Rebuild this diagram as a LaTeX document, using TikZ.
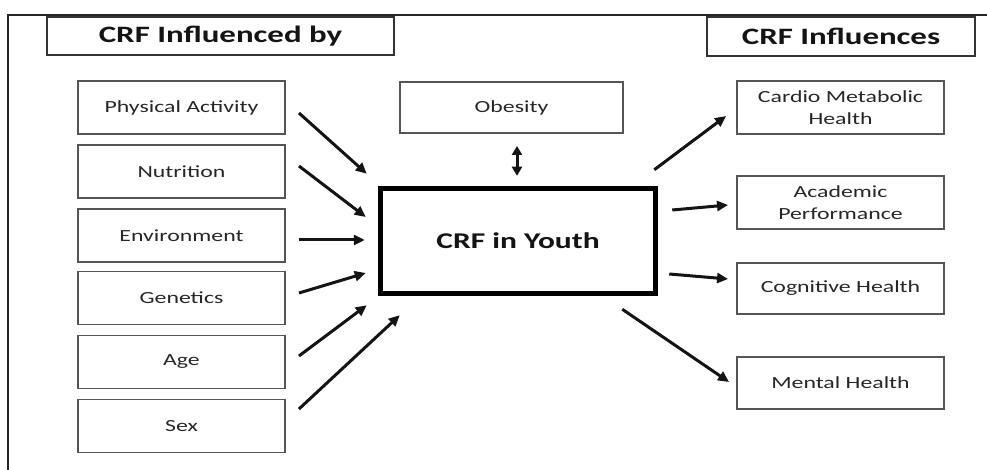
\documentclass[tikz,border=0pt]{standalone}
\usepackage{fontspec}
\setmainfont{Carlito}[FakeStretch=1.4]
\usetikzlibrary{arrows.meta}
\definecolor{boxline}{HTML}{555555}
\definecolor{boxtext}{HTML}{262626}
\tikzset{
  factor/.style={draw=boxline, line width=1.9pt, minimum width=207pt, minimum height=53pt,
    inner sep=0pt, text=boxtext, font=\fontsize{17}{22.5}\selectfont, align=center},
  header/.style={draw=black!80, line width=2.2pt, inner sep=0pt, text=black!92,
    font=\fontsize{23.5}{26}\selectfont\bfseries},
  core/.style={draw=black, line width=5.5pt, minimum width=275pt, minimum height=105pt,
    inner sep=0pt, font=\fontsize{22.5}{25}\selectfont\bfseries, text=black!92},
  arr/.style={line width=3pt, -{Triangle[length=11pt,width=10pt]}, black!92},
  dbl/.style={line width=3pt, {Triangle[length=9pt,width=10pt]}-{Triangle[length=9pt,width=10pt]}, black!92}
}
\begin{document}
\begin{tikzpicture}[x=1pt,y=-1pt]
  \useasboundingbox (0,0) rectangle (987,470);
  % open frame: top and left edges
  \draw[line width=2.2pt, black!85] (8,470) -- (8,15) -- (987,15);

  % section headers
  \node[header, minimum width=347pt, minimum height=38pt] (hdrL) at (220.5,36) {CRF Influenced by};
  \node[header, minimum width=268pt, minimum height=39pt] (hdrR) at (841,36.5) {CRF Influences};

  % determinants
  \node[factor] (pa) at (181.5,107.5) {Physical Activity};
  \node[factor] (nu) at (181.5,171.5) {Nutrition};
  \node[factor] (en) at (181.5,235.5) {Environment};
  \node[factor] (ge) at (181.5,298) {Genetics};
  \node[factor] (ag) at (181.5,362) {Age};
  \node[factor] (sx) at (181.5,426) {Sex};

  % centre
  \node[factor, minimum width=223pt, minimum height=51pt] (ob) at (511.5,107.5) {Obesity};
  \node[core] (crf) at (518,241) {CRF in Youth};

  % outcomes
  \node[factor] (cm) at (840.5,107.5) {Cardio Metabolic\\Health};
  \node[factor] (ap) at (840.5,202.5) {Academic\\Performance};
  \node[factor, minimum height=51pt] (cg) at (840.5,288.5) {Cognitive Health};
  \node[factor, minimum height=52pt] (mh) at (840.5,383) {Mental Health};

  % arrows into CRF
  \draw[arr] ([shift={(13,5.5)}]pa.east) -- ([shift={(-11,-12)}]crf.north west);
  \draw[arr] ([shift={(13,-5.5)}]nu.east) -- ([shift={(-12,-24)}]crf.west);
  \draw[arr] ([shift={(13,4.5)}]en.east) -- ([shift={(-13,-1)}]crf.west);
  \draw[arr] ([shift={(13,-5)}]ge.east) -- ([shift={(-12,32)}]crf.west);
  \draw[arr] ([shift={(13,-6)}]ag.east) -- ([shift={(-11,9)}]crf.south west);
  \draw[arr] ([shift={(13,-17)}]sx.east) -- ([shift={(22,19)}]crf.south west);

  % obesity <-> CRF
  \draw[dbl] ([shift={(5.5,12)}]ob.south) -- ([shift={(-1,-10)}]crf.north);

  % arrows out of CRF
  \draw[arr] ([shift={(-4,-16)}]crf.north east) -- ([shift={(-10,8.5)}]cm.west);
  \draw[arr] ([shift={(14,-31)}]crf.east) -- ([shift={(-8,2.5)}]ap.west);
  \draw[arr] ([shift={(11,33)}]crf.east) -- ([shift={(-8,-9.5)}]cg.west);
  \draw[arr] ([shift={(-36,13)}]crf.south east) -- ([shift={(-7,-1)}]mh.west);
\end{tikzpicture}
\end{document}
